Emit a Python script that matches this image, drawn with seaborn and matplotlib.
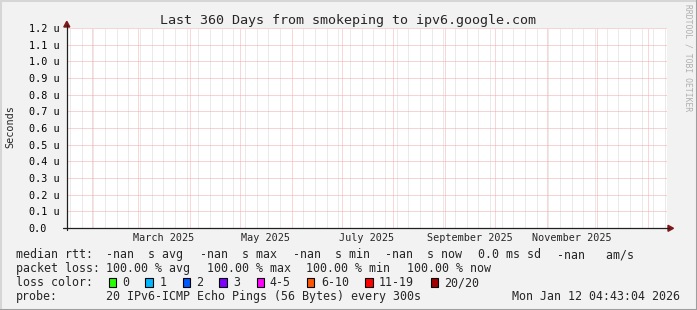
import numpy as np
import pandas as pd
import matplotlib
matplotlib.use("Agg")
import matplotlib.pyplot as plt
import matplotlib.dates as mdates
import matplotlib.transforms as mtransforms
from matplotlib.patches import Rectangle, Polygon
from matplotlib.lines import Line2D
import seaborn as sns

# ---------------- data ----------------
title = "Last 360 Days from smokeping to ipv6.google.com"
start_time = "2025-01-17 04:43:04"
end_time = "2026-01-12 04:43:04"
timestamp_text = "Mon Jan 12 04:43:04 2026"
y_label = "Seconds"
watermark = "RRDTOOL / TOBI OETIKER"

# RTT samples (every probe lost -> no values)
sample_times = ["2025-01-17 04:43:04", "2026-01-12 04:43:04"]
median_rtt = [np.nan, np.nan]

# y axis (seconds)
y_tick_values = [0.0, 0.1e-6, 0.2e-6, 0.3e-6, 0.4e-6, 0.5e-6, 0.6e-6,
                 0.7e-6, 0.8e-6, 0.9e-6, 1.0e-6, 1.1e-6, 1.2e-6]
y_tick_labels = ["0.0", "0.1 u", "0.2 u", "0.3 u", "0.4 u", "0.5 u", "0.6 u",
                 "0.7 u", "0.8 u", "0.9 u", "1.0 u", "1.1 u", "1.2 u"]

# x axis labels
month_labels = ["March 2025", "May 2025", "July 2025", "September 2025", "November 2025"]
month_label_starts = ["2025-03-01", "2025-05-01", "2025-07-01", "2025-09-01", "2025-11-01"]

# legend
rtt_stat_values = ["-nan", "-nan", "-nan", "-nan"]
rtt_stat_names = ["avg", "max", "min", "now"]
rtt_sd_text = "0.0 ms sd"
rtt_ams_value = "-nan"
loss_values = ["100.00", "100.00", "100.00", "100.00"]
loss_names = ["avg", "max", "min", "now"]
loss_labels = ["0", "1", "2", "3", "4-5", "6-10", "11-19", "20/20"]
loss_colors = ["#26ff00", "#00b8ff", "#0059ff", "#7e00ff", "#ff00ff", "#ff5500", "#ff0000", "#a10000"]
probe_text = "20 IPv6-ICMP Echo Pings (56 Bytes) every 300s"

# ---------------- style ----------------
W, H = 697, 310
BACK = "#F2F2F2"
MONO = "DejaVu Sans Mono"
sns.set_style("white")
plt.rcParams["font.family"] = [MONO, "DejaVu Sans"]

fig = plt.figure(figsize=(W / 100, H / 100), dpi=100, facecolor=BACK)

X0, X1, YT, YB = 67, 667, 28, 228   # plot area in pixels (top-left origin)


def fx(px):
    return px / W


def fy(py):
    return 1 - py / H


ax = fig.add_axes([fx(X0), fy(YB), (X1 - X0) / W, (YB - YT) / H])
ax.set_facecolor("white")

df = pd.DataFrame({"t": mdates.date2num(pd.to_datetime(sample_times)),
                   "rtt": median_rtt})
sns.lineplot(data=df, x="t", y="rtt", ax=ax, color="#00cc00")

t0 = mdates.date2num(pd.Timestamp(start_time))
t1 = mdates.date2num(pd.Timestamp(end_time))
ax.set_xlim(t0, t1)
ax.set_ylim(0, 1.2e-6)
ax.set_xlabel("")
ax.set_ylabel("")

for s in ax.spines.values():
    s.set_visible(False)

# grid (1px dotted)
ax.xaxis.set_major_locator(mdates.MonthLocator())
ax.xaxis.set_minor_locator(mdates.WeekdayLocator(byweekday=mdates.SU))
ax.set_yticks(y_tick_values)
ax.set_yticklabels(y_tick_labels, ha="left", fontsize=7.3, family=MONO)
dots = (0, (1, 1))
ax.grid(which="minor", axis="x", color="#D6D6D6", linestyle=dots, linewidth=0.72)
ax.grid(which="major", axis="x", color="#F3B0B0", linestyle=dots, linewidth=0.72)
ax.grid(which="major", axis="y", color="#EFAAAA", linestyle=dots, linewidth=0.72)
ax.set_axisbelow(True)

ax.tick_params(axis="x", which="major", length=2.2, width=0.72, color="#E08080",
               direction="out", labelbottom=False)
ax.tick_params(axis="x", which="minor", length=1.5, width=0.72, color="#B8B8B8",
               direction="out")
ax.tick_params(axis="y", which="major", length=2.9, width=0.72, color="#202020",
               direction="out", pad=24.6, labelcolor="black")

# month labels centred half a month after the month start
xlab_trans = mtransforms.blended_transform_factory(ax.transData, fig.transFigure)
for lab, st in zip(month_labels, month_label_starts):
    xc = mdates.date2num(pd.Timestamp(st) + pd.Timedelta(days=15))
    ax.text(xc, fy(240.7), lab, transform=xlab_trans,
            ha="center", va="baseline", fontsize=7.3, family=MONO)

# axis lines & arrows (figure pixel coordinates)
axis_col = "#202020"
arrow_col = "#801818"
fig.add_artist(Line2D([fx(63), fx(669)], [fy(228.3), fy(228.3)], color=axis_col, lw=0.9))
fig.add_artist(Line2D([fx(66.8), fx(66.8)], [fy(230), fy(25)], color=axis_col, lw=0.9))
fig.add_artist(Polygon([[fx(66.8), fy(21.3)], [fx(63.8), fy(27)], [fx(69.8), fy(27)]],
                       closed=True, color=arrow_col, transform=fig.transFigure))
fig.add_artist(Polygon([[fx(673.5), fy(228.3)], [fx(668), fy(225.3)], [fx(668), fy(231.3)]],
                       closed=True, color=arrow_col, transform=fig.transFigure))

# title, y label, watermark
fig.text(fx(348), fy(24), title, ha="center", va="baseline", fontsize=9.6, family=MONO)
fig.text(fx(10), fy(127), y_label, ha="center", va="center", rotation=90,
         fontsize=7.3, family=MONO)
fig.text(fx(688), fy(4), watermark, ha="center", va="top", rotation=270,
         fontsize=5.8, family=MONO, color="#AFAFAF")

# legend
LF = 8.37
r1, r2, r3, r4 = 258.3, 272.3, 286.3, 300.3


def txt(x, y, s, **kw):
    fig.text(fx(x), fy(y), s, ha="left", va="baseline", fontsize=LF, family=MONO, **kw)


txt(15.5, r1, "median rtt:")
for x, v, n in zip([105.9, 199.9, 292.6, 385.3], rtt_stat_values, rtt_stat_names):
    txt(x, r1, f"{v}  s {n}")
txt(478.3, r1, rtt_sd_text)
txt(556.9, r1, f"{rtt_ams_value}   am/s")

txt(15.5, r2, "packet loss:")
for x, v, n in zip([106.3, 207.0, 306.3, 407.3], loss_values, loss_names):
    txt(x, r2, f"{v} % {n}")

txt(15.5, r3, "loss color:")
box_x = [108.7, 145.3, 182.7, 219.3, 256.7, 306.7, 365.3, 430.7]
lab_x = [122.3, 159.7, 196.3, 233.0, 269.7, 321.0, 379.0, 444.3]
for bx, lx, lab, col in zip(box_x, lab_x, loss_labels, loss_colors):
    fig.add_artist(Rectangle((fx(bx), fy(287)), 7.6 / W, 8.6 / H, transform=fig.transFigure,
                             facecolor=col, edgecolor="black", linewidth=0.8))
    txt(lx, r3, lab)

txt(15.5, r4, "probe:")
txt(106.0, r4, probe_text)
txt(512.0, r4, timestamp_text)

# 3D frame
fig.add_artist(Line2D([0, 0], [0, 1], color="#D6D6D6", lw=2.2, transform=fig.transFigure))
fig.add_artist(Line2D([0, 1], [1, 1], color="#D6D6D6", lw=2.2, transform=fig.transFigure))
fig.add_artist(Line2D([1, 1], [0, 1], color="#9E9E9E", lw=2.2, transform=fig.transFigure))
fig.add_artist(Line2D([0, 1], [0, 0], color="#9E9E9E", lw=2.2, transform=fig.transFigure))

fig.savefig("out.png", dpi=100, facecolor=BACK)
